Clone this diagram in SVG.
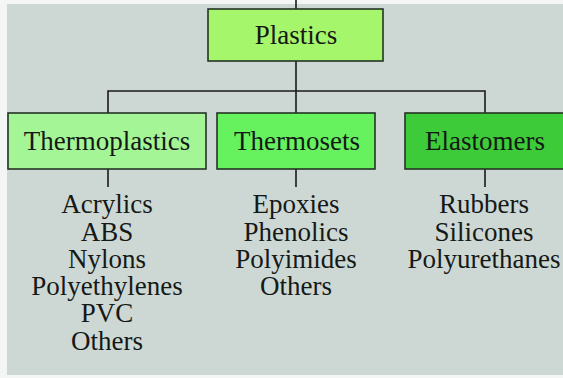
<svg xmlns="http://www.w3.org/2000/svg" width="563" height="378" viewBox="0 0 563 378">
  <style>
    .box { stroke: #253425; stroke-width: 1.6; }
    .conn { stroke: #1a1a1a; stroke-width: 1.6; fill: none; }
  </style>
  <rect x="0" y="0" width="563" height="378" fill="#f3f6f5"/>
  <rect x="7" y="4" width="556" height="371" fill="#cdd8d5"/>

  <g id="connectors">
    <line class="conn" x1="296" y1="0" x2="296" y2="9"/>
    <line class="conn" x1="296" y1="61" x2="296" y2="91"/>
    <polyline class="conn" points="108,113 108,91 485,91 485,113"/>
    <line class="conn" x1="296" y1="91" x2="296" y2="113"/>
    <line class="conn" x1="108" y1="169" x2="108" y2="187"/>
    <line class="conn" x1="296" y1="169" x2="296" y2="187"/>
    <line class="conn" x1="485" y1="169" x2="485" y2="187"/>
  </g>

  <g font-family="Liberation Serif, DejaVu Serif, Times New Roman, serif" font-size="27" fill="#151915" text-anchor="middle">
    <g id="plastics">
      <rect class="box" x="208" y="9" width="175" height="52" fill="#a6f66b"/>
      <text x="296" y="44">Plastics</text>
    </g>

    <g id="thermoplastics">
      <rect class="box" x="8" y="113" width="198" height="56" fill="#a4f596"/>
      <text x="107" y="150">Thermoplastics</text>
    </g>

    <g id="thermosets">
      <rect class="box" x="217" y="113" width="158" height="56" fill="#66f15f"/>
      <text x="297" y="150">Thermosets</text>
    </g>

    <g id="elastomers">
      <rect class="box" x="405" y="113" width="162" height="56" fill="#3dcb3a"/>
      <text x="485" y="150">Elastomers</text>
    </g>

    <g id="thermoplastics-list">
      <text x="107" y="213">Acrylics</text>
      <text x="107" y="241">ABS</text>
      <text x="107" y="268">Nylons</text>
      <text x="107" y="295">Polyethylenes</text>
      <text x="107" y="322">PVC</text>
      <text x="107" y="350">Others</text>
    </g>

    <g id="thermosets-list">
      <text x="296" y="213">Epoxies</text>
      <text x="296" y="241">Phenolics</text>
      <text x="296" y="268">Polyimides</text>
      <text x="296" y="295">Others</text>
    </g>

    <g id="elastomers-list">
      <text x="484" y="213">Rubbers</text>
      <text x="484" y="241">Silicones</text>
      <text x="484" y="268">Polyurethanes</text>
    </g>
  </g>
</svg>
